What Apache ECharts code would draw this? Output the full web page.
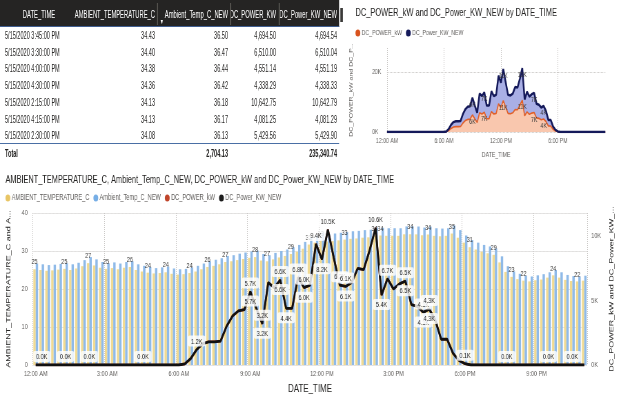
<!DOCTYPE html>
<html>
<head>
<meta charset="utf-8">
<script src="https://cdn.jsdelivr.net/npm/echarts@6/dist/echarts.min.js"></script>
<style>
  body { margin: 0; background: #fff; }
  #wrap { position: relative; width: 620px; height: 396px; overflow: hidden; }
  #chart { position: absolute; left: 0; top: 0; height: 396px; transform-origin: 0 0; }
  #table { position: absolute; left: 0; top: 0; height: 165px; transform-origin: 0 0;
    font-family: "Liberation Sans", Arial, sans-serif; }
  .c { position: absolute; white-space: nowrap; font-size: 10.5px; line-height: 12px; color: #252423; }
  .h { font-size: 11px; color: #fff; }
</style>
</head>
<body>
<div id="wrap">
  <div id="chart"></div>
  <div id="table"></div>
</div>
<script>
// 表格数据
var tableHeads = ['DATE_TIME', 'AMBIENT_TEMPERATURE_C', 'Ambient_Temp_C_NEW', 'DC_POWER_KW', 'DC_Power_KW_NEW'];
var tableTimes = ['5/15/2020 3:45:00 PM', '5/15/2020 3:30:00 PM', '5/15/2020 4:00:00 PM', '5/15/2020 4:30:00 PM',
  '5/15/2020 2:15:00 PM', '5/15/2020 4:15:00 PM', '5/15/2020 2:30:00 PM'];
var tableAmb = [34.43, 34.40, 34.38, 34.36, 34.13, 34.13, 34.08];
var tableAmbNew = [36.50, 36.47, 36.44, 36.42, 36.18, 36.17, 36.13];
var tableDc = [4694.50, 6510.00, 4551.14, 4338.29, 10642.75, 4081.25, 5429.56];
var tableDcNew = [4694.54, 6510.04, 4551.19, 4338.33, 10642.79, 4081.29, 5429.90];
var tableTotals = ['Total', '', '2,704.13', '', '235,340.74'];

// 时间轴：每15分钟一个点，12:00 AM 到 11:00 PM
var timeSlots = [];
for (var i = 0; i < 93; i++) {
  var h = Math.floor(i / 4), m = (i % 4) * 15;
  var hh = h % 12 === 0 ? 12 : h % 12;
  timeSlots.push(hh + ':' + (m < 10 ? '0' + m : m) + (h < 12 ? ' AM' : ' PM'));
}

// 温度（柱子）
var ambTemp = [
  25.2, 25.0, 24.8, 24.9, 25.1, 25.3, 25.0, 25.4, 26.0, 26.8, 26.2, 25.6,
  25.3, 25.5, 25.2, 25.6, 25.8, 25.0, 24.6, 24.3, 24.1, 24.2, 24.4, 24.0,
  23.8, 23.9, 24.2, 24.6, 25.2, 25.8, 26.1, 26.5, 27.1, 27.3, 27.6, 27.9,
  28.2, 28.4, 27.5, 27.3, 27.8, 28.3, 28.7, 29.2, 29.8, 30.6, 31.7, 32.2,
  32.8, 32.5, 32.6, 32.8, 33.0, 33.2, 33.3, 33.5, 33.6, 34.13, 34.08, 34.0,
  34.0, 34.0, 34.40, 34.43, 34.38, 34.13, 34.36, 34.0, 33.9, 34.0, 34.6, 33.5,
  32.2, 31.0, 30.4, 29.8, 29.4, 29.0, 27.0, 24.5, 23.2, 22.6, 22.2, 22.0,
  22.3, 22.5, 23.0, 23.6, 23.0, 22.4, 22.1, 22.0, 22.2
];
var ambTempNew = [
  26.7, 26.5, 26.3, 26.4, 26.6, 26.8, 26.5, 26.9, 27.6, 28.4, 27.8, 27.1,
  26.8, 27.0, 26.7, 27.1, 27.3, 26.5, 26.1, 25.8, 25.5, 25.7, 25.9, 25.4,
  25.2, 25.3, 25.7, 26.1, 26.7, 27.3, 27.7, 28.1, 28.7, 28.9, 29.3, 29.6,
  29.9, 30.1, 29.2, 28.9, 29.5, 30.0, 30.4, 31.0, 31.6, 32.4, 33.6, 34.1,
  34.8, 34.5, 34.6, 34.8, 35.0, 35.2, 35.3, 35.5, 35.6, 36.18, 36.13, 36.0,
  36.0, 36.0, 36.47, 36.50, 36.44, 36.17, 36.42, 36.0, 35.9, 36.0, 36.7, 35.5,
  34.1, 32.9, 32.2, 31.6, 31.2, 30.7, 28.6, 26.0, 24.6, 24.0, 23.5, 23.3,
  23.6, 23.9, 24.4, 25.0, 24.4, 23.7, 23.4, 23.3, 23.5
];

// 直流功率 kW（折线 / 面积）
var dcPower = [
  0, 0, 0, 0, 0, 0, 0, 0, 0, 0, 0, 0,
  0, 0, 0, 0, 0, 0, 0, 0, 0, 0, 0, 0,
  0, 90, 500, 1200, 1650, 1800, 1800, 1850, 3000, 3800, 4200, 4300,
  5700, 4400, 3200, 6400, 6000, 6600, 4400, 4400, 6800, 6000, 6200, 9400,
  8200, 10500, 8300, 6200, 6100, 6400, 7500, 7400, 8900, 10642.75, 5429.56, 6700,
  5900, 6300, 6510.00, 4694.50, 4551.14, 4081.25, 4338.29, 3500, 2000, 2000, 900, 350,
  100, 0, 0, 0, 0, 0, 0, 0, 0, 0, 0, 0,
  0, 0, 0, 0, 0, 0, 0, 0, 0
];
var dcPowerNew = [
  0, 0, 0, 0, 0, 0, 0, 0, 0, 0, 0, 0,
  0, 0, 0, 0, 0, 0, 0, 0, 0, 0, 0, 0,
  0, 90, 500, 1200, 1650, 1800, 1800, 1850, 3000, 3800, 4200, 4300,
  5700, 4400, 3200, 6400, 6000, 6600, 4400, 4400, 6800, 6000, 6200, 9400,
  8200, 10500, 8300, 6200, 6100, 6400, 7500, 7400, 8900, 10642.79, 5429.90, 6700,
  5900, 6300, 6510.04, 4694.54, 4551.19, 4081.29, 4338.33, 3500, 2000, 2000, 900, 350,
  100, 0, 0, 0, 0, 0, 0, 0, 0, 0, 0, 0,
  0, 0, 0, 0, 0, 0, 0, 0, 0
];

// 显示数据标签的位置（索引）
var tempLabelIdx = [0, 5, 9, 12, 16, 19, 22, 26, 29, 32, 37, 39, 43, 46, 48, 52, 57, 58, 63, 66, 70, 73, 77, 80, 82, 87, 91];
var kwNewLabelIdx = [1, 5, 9, 18, 27, 36, 38, 41, 44, 45, 47, 49, 51, 52, 57, 59, 62, 65, 66, 72, 79, 86, 90];
var kwLabelIdx = [36, 38, 41, 42, 45, 48, 52, 58, 62, 65, 66];
var areaLabelIdx = [36, 41, 49, 57, 62, 66];

var FONT = '"Liberation Sans", Arial, sans-serif';
// 原图整体被横向压缩，这里用 scaleX 还原那种窄字效果
var S = 0.69;   // 图表横向缩放
var TS = 0.53;  // 表格横向缩放
function X(v) { return v / S; }
function T(v) { return v / TS; }

// ---------- 表格 ----------
(function () {
  var box = document.getElementById('table');
  box.style.width = T(345) + 'px';
  box.style.transform = 'scaleX(' + TS + ')';
  var edges = [null, 155, 228, 276, 337];
  function cell(text, x, y, right, cls, style) {
    var d = document.createElement('div');
    d.className = 'c' + (cls ? ' ' + cls : '');
    d.textContent = text;
    d.style.top = y + 'px';
    if (right) { d.style.right = T(345 - x) + 'px'; } else { d.style.left = T(x) + 'px'; }
    if (style) { for (var k in style) d.style[k] = style[k]; }
    box.appendChild(d);
  }
  function rect(x, y, w, hgt, color) {
    var d = document.createElement('div');
    d.style.cssText = 'position:absolute;left:' + T(x) + 'px;top:' + y + 'px;width:' + T(w) + 'px;height:' + hgt + 'px;background:' + color;
    box.appendChild(d);
  }
  function fmt(v) {
    return v.toLocaleString('en-US', { minimumFractionDigits: 2, maximumFractionDigits: 2 });
  }
  // 表头
  rect(0, 0, 339, 27, '#252423');
  rect(0, 26, 339, 1, '#3f5d8f');
  cell(tableHeads[0], 0, 8, false, 'h', { width: T(78) + 'px', textAlign: 'center' });
  for (var c = 1; c < 5; c++) cell(tableHeads[c], edges[c], 8, true, 'h');
  cell('\u25BC', 160, 18, false, 'h', { fontSize: '7px', lineHeight: '7px' });
  rect(157, 3, 1, 22, '#55534f');
  rect(230, 3, 1, 22, '#55534f');
  rect(279, 3, 1, 22, '#55534f');
  // 数据行
  for (var r = 0; r < tableTimes.length; r++) {
    var y = 29 + r * 16.7;
    cell(tableTimes[r], 5, y, false);
    cell(fmt(tableAmb[r]), edges[1], y, true);
    cell(fmt(tableAmbNew[r]), edges[2], y, true);
    cell(fmt(tableDc[r]), edges[3], y, true);
    cell(fmt(tableDcNew[r]), edges[4], y, true);
  }
  // 合计
  rect(0, 143, 339, 1, '#4a6fa5');
  cell(tableTotals[0], 5, 147, false, '', { fontWeight: 'bold' });
  cell(tableTotals[2], edges[2], 147, true, '', { fontWeight: 'bold' });
  cell(tableTotals[4], edges[4], 147, true, '', { fontWeight: 'bold' });
  // 滚动条
  rect(340, 8, 3, 14, '#3b3a39');
})();

// ---------- 图表 ----------
(function () {
  var dom = document.getElementById('chart');
  dom.style.width = X(620) + 'px';
  dom.style.transform = 'scaleX(' + S + ')';
  var myChart = echarts.init(dom);

  function withLabels(arr, idx) {
    return arr.map(function (v, i) {
      return idx.indexOf(i) >= 0 ? { value: v, label: { show: true } } : v;
    });
  }
  function kFmt(p) { return (p.value / 1000).toFixed(1) + 'K'; }
  function kRound(p) { return Math.round(p.value / 1000) + 'K'; }

  var lineLabel = {
    fontSize: 8, fontFamily: FONT, color: '#252423',
    backgroundColor: 'rgba(255,255,255,0.82)', padding: [2, 4, 1, 4], borderRadius: 2,
    formatter: kFmt
  };

  var option = {
    animation: false,
    textStyle: { fontFamily: FONT },
    title: [
      {
        text: 'DC_POWER_kW and DC_Power_KW_NEW by DATE_TIME', left: X(352), top: 3,
        textStyle: { fontSize: 10.8, fontWeight: 'normal', color: '#252423', fontFamily: FONT }
      },
      {
        text: 'AMBIENT_TEMPERATURE_C, Ambient_Temp_C_NEW, DC_POWER_kW and DC_Power_KW_NEW by DATE_TIME', left: X(2), top: 170,
        textStyle: { fontSize: 10.7, fontWeight: 'normal', color: '#252423', fontFamily: FONT }
      }
    ],
    legend: [
      {
        left: X(352), top: 24, icon: 'circle', itemWidth: 7, itemHeight: 7, itemGap: X(4),
        textStyle: { fontSize: 7.5, color: '#605E5C', fontFamily: FONT, padding: [0, 0, 0, -3] },
        data: [
          { name: 'DC_POWER_kW', itemStyle: { color: '#D9531E' } },
          { name: 'DC_Power_KW_NEW', itemStyle: { color: '#14195A' } }
        ]
      },
      {
        left: X(2), top: 189, icon: 'circle', itemWidth: 7, itemHeight: 7, itemGap: X(4),
        textStyle: { fontSize: 8.2, color: '#605E5C', fontFamily: FONT, padding: [0, 0, 0, -3] },
        data: [
          { name: 'AMBIENT_TEMPERATURE_C', itemStyle: { color: '#E8C565' } },
          { name: 'Ambient_Temp_C_NEW', itemStyle: { color: '#76AEE6' } },
          { name: 'DC_POWER_kW', itemStyle: { color: '#C0452B' } },
          { name: 'DC_Power_KW_NEW', itemStyle: { color: '#1B1B1B' } }
        ]
      }
    ],
    grid: [
      { left: X(387), right: X(15), top: 48, bottom: 264 },
      { left: X(29), right: X(27), top: 213, bottom: 26 }
    ],
    xAxis: [
      {
        gridIndex: 0, type: 'category', data: timeSlots, boundaryGap: false,
        axisLine: { show: false }, axisTick: { show: false },
        axisLabel: { interval: 23, fontSize: 7.5, color: '#605E5C', margin: 5 },
        splitLine: { show: true, interval: 23, lineStyle: { type: 'dotted', color: '#C8C6C4' } },
        name: 'DATE_TIME', nameLocation: 'middle', nameGap: 19,
        nameTextStyle: { fontSize: 7.5, color: '#605E5C' }
      },
      {
        gridIndex: 1, type: 'category', data: timeSlots,
        axisLine: { show: false }, axisTick: { show: false },
        axisLabel: { interval: 11, fontSize: 8, color: '#605E5C', margin: 5 },
        splitLine: { show: true, interval: 11, lineStyle: { type: 'dotted', color: '#C8C6C4' } },
        name: 'DATE_TIME', nameLocation: 'middle', nameGap: 18,
        nameTextStyle: { fontSize: 11.5, color: '#252423' }
      }
    ],
    yAxis: [
      {
        gridIndex: 0, type: 'value', min: 0, max: 28000, interval: 20000,
        axisLabel: {
          fontSize: 7.5, color: '#605E5C', align: 'left', margin: X(15), showMaxLabel: false,
          formatter: function (v) { return v / 1000 + 'K'; }
        },
        splitLine: { showMaxLine: false, lineStyle: { type: 'dotted', color: '#C8C6C4' } },
        name: 'DC_POWER_kW and DC_P...', nameLocation: 'middle', nameGap: X(33), nameRotate: 90,
        nameTextStyle: { fontSize: 7, color: '#605E5C' }
      },
      {
        gridIndex: 1, type: 'value', min: 0, max: 40, interval: 10,
        axisLabel: { fontSize: 8, color: '#605E5C', margin: X(5) },
        splitLine: { lineStyle: { type: 'dotted', color: '#C8C6C4' } },
        name: 'AMBIENT_TEMPERATURE_C and A...', nameLocation: 'middle', nameGap: X(21), nameRotate: 90,
        nameTextStyle: { fontSize: 9, color: '#252423' }
      },
      {
        gridIndex: 1, type: 'value', position: 'right', min: 0, max: 11800, interval: 5000,
        axisLabel: {
          fontSize: 8, color: '#605E5C', margin: X(4), showMaxLabel: false,
          formatter: function (v) { return v / 1000 + 'K'; }
        },
        splitLine: { show: false },
        name: 'DC_POWER_kW and DC_Power_KW_...', nameLocation: 'middle', nameGap: X(19), nameRotate: 90,
        nameTextStyle: { fontSize: 9, color: '#252423' }
      }
    ],
    series: [
      {
        name: 'DC_POWER_kW', type: 'line', xAxisIndex: 0, yAxisIndex: 0, stack: 'kw',
        data: withLabels(dcPower, areaLabelIdx),
        symbol: 'circle', symbolSize: 0, showSymbol: true,
        lineStyle: { color: '#E0602A', width: 1.6 },
        itemStyle: { color: '#E0602A' },
        areaStyle: { color: '#F9C7AE', opacity: 1 },
        label: { position: 'bottom', distance: 3, fontSize: 7.5, color: '#3b3a39', formatter: kRound }
      },
      {
        name: 'DC_Power_KW_NEW', type: 'line', xAxisIndex: 0, yAxisIndex: 0, stack: 'kw',
        data: withLabels(dcPowerNew, areaLabelIdx),
        symbol: 'circle', symbolSize: 0, showSymbol: true,
        lineStyle: { color: '#14195A', width: 2.5 },
        itemStyle: { color: '#14195A' },
        areaStyle: { color: '#A9AFE5', opacity: 1 },
        label: { position: 'bottom', distance: 3, fontSize: 7.5, color: '#3b3a39', formatter: kRound }
      },
      {
        name: 'AMBIENT_TEMPERATURE_C', type: 'bar', xAxisIndex: 1, yAxisIndex: 1,
        data: withLabels(ambTemp, tempLabelIdx),
        barGap: '0%', barCategoryGap: '20%',
        itemStyle: { color: '#F0DA92' },
        label: {
          position: 'top', distance: 3, fontSize: 8, color: '#3b3a39',
          formatter: function (p) { return Math.round(p.value); }
        }
      },
      {
        name: 'Ambient_Temp_C_NEW', type: 'bar', xAxisIndex: 1, yAxisIndex: 1,
        data: ambTempNew,
        itemStyle: { color: '#8FBAE8' }
      },
      {
        name: 'DC_POWER_kW', type: 'line', xAxisIndex: 1, yAxisIndex: 2,
        data: withLabels(dcPower, kwLabelIdx),
        symbol: 'circle', symbolSize: 0, showSymbol: true,
        lineStyle: { color: '#C0452B', width: 2.6 },
        itemStyle: { color: '#C0452B' },
        label: Object.assign({}, lineLabel, { position: 'bottom', distance: 4 })
      },
      {
        name: 'DC_Power_KW_NEW', type: 'line', xAxisIndex: 1, yAxisIndex: 2,
        data: withLabels(dcPowerNew, kwNewLabelIdx),
        symbol: 'circle', symbolSize: 0, showSymbol: true,
        lineStyle: { color: '#111111', width: 2.8 },
        itemStyle: { color: '#111111' },
        label: Object.assign({}, lineLabel, { position: 'top', distance: 3 })
      }
    ]
  };

  myChart.setOption(option);

  window.addEventListener('resize', function () {
    myChart.resize();
  });
})();
</script>
</body>
</html>
